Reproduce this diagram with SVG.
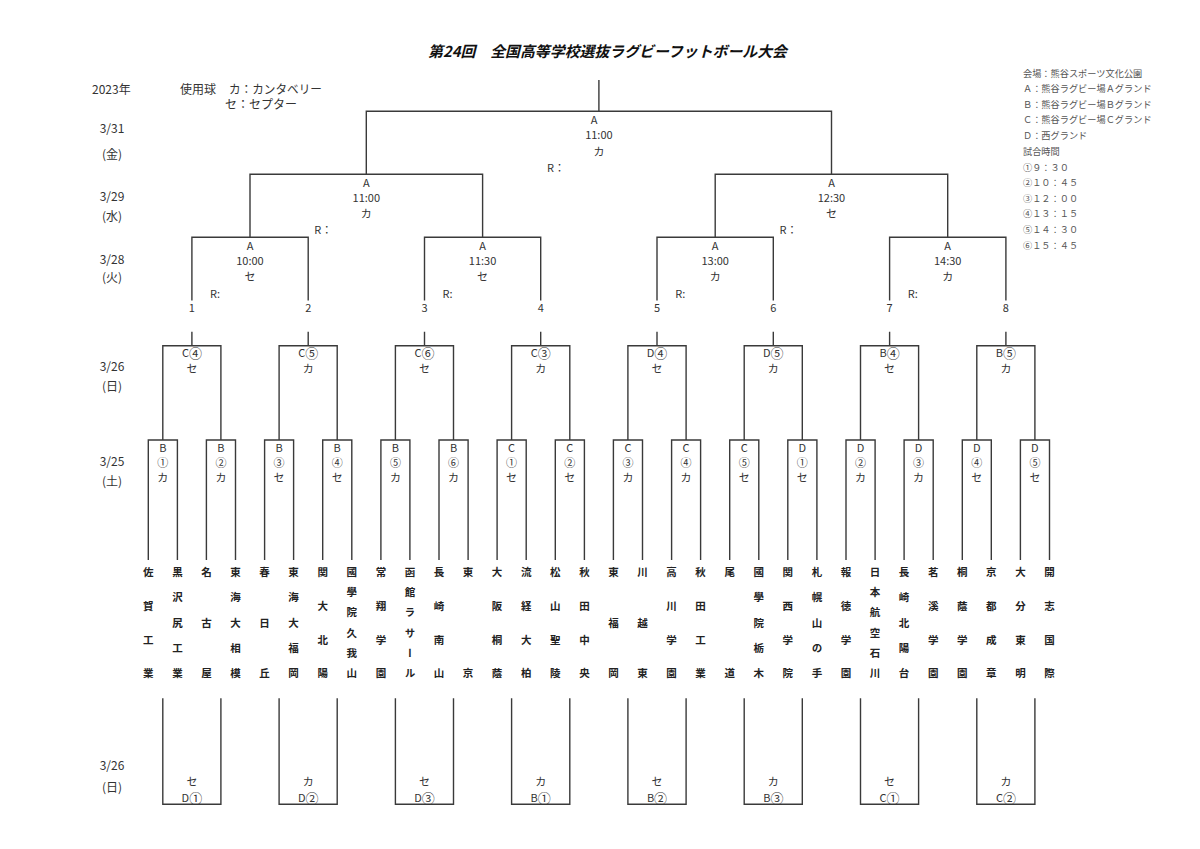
<svg xmlns="http://www.w3.org/2000/svg" width="1200" height="849" viewBox="0 0 1200 849">
<style>
.ln{fill:none;stroke:#3a3a3a;stroke-width:1.4}
.lb{font-family:"Noto Sans CJK JP","Noto Sans",sans-serif;font-size:11px;fill:#333;text-anchor:middle;dominant-baseline:central}
.cn{font-size:13px}
.rl{font-family:"Noto Sans CJK JP","Noto Sans",sans-serif;font-size:11px;fill:#333;dominant-baseline:central}
.dt{font-family:"Noto Sans CJK JP","Noto Sans",sans-serif;font-size:12px;fill:#333;text-anchor:middle;dominant-baseline:central}
.hd{font-family:"Noto Sans CJK JP","Noto Sans",sans-serif;font-size:12px;fill:#333;dominant-baseline:central}
.lg{font-family:"Noto Sans CJK JP","Noto Sans",sans-serif;font-size:9.2px;fill:#555;dominant-baseline:central}
.tm{font-family:"Noto Sans CJK JP","Noto Sans",sans-serif;font-weight:bold;font-size:10.5px;fill:#222;writing-mode:vertical-rl}
.ti{font-family:"Noto Sans CJK JP","Noto Sans",sans-serif;font-weight:bold;font-style:italic;font-size:15px;fill:#111;text-anchor:middle;dominant-baseline:central}
</style>
<rect width="1200" height="849" fill="#fff"/>
<g id="title"><text class="ti" x="607.5" y="50" textLength="359" lengthAdjust="spacingAndGlyphs">第24回　全国高等学校選抜ラグビーフットボール大会</text></g>
<g id="header">
<text class="hd" x="92" y="88">2023年</text>
<text class="hd" x="180" y="88">使用球</text>
<text class="hd" x="229" y="88" textLength="93" lengthAdjust="spacingAndGlyphs">カ：カンタベリー</text>
<text class="hd" x="225" y="103.5" textLength="72" lengthAdjust="spacingAndGlyphs">セ：セプター</text>
</g>
<g id="legend">
<text class="lg" x="1023" y="72.7">会場：熊谷スポーツ文化公園</text>
<text class="lg" x="1023" y="88">Ａ：熊谷ラグビー場Ａグランド</text>
<text class="lg" x="1023" y="103.7">Ｂ：熊谷ラグビー場Ｂグランド</text>
<text class="lg" x="1023" y="119.3">Ｃ：熊谷ラグビー場Ｃグランド</text>
<text class="lg" x="1023" y="135">Ｄ：西グランド</text>
<text class="lg" x="1023" y="150.7">試合時間</text>
<text class="lg" x="1023" y="166.5">①９：３０</text>
<text class="lg" x="1023" y="182.2">②１０：４５</text>
<text class="lg" x="1023" y="197.8">③１２：００</text>
<text class="lg" x="1023" y="213.4">④１３：１５</text>
<text class="lg" x="1023" y="229">⑤１４：３０</text>
<text class="lg" x="1023" y="244.8">⑥１５：４５</text>
</g>
<g id="dates">
<text class="dt" x="112" y="127">3/31</text>
<text class="dt" x="112" y="153.5">(金)</text>
<text class="dt" x="112" y="195">3/29</text>
<text class="dt" x="112" y="215.5">(水)</text>
<text class="dt" x="112" y="258">3/28</text>
<text class="dt" x="112" y="276">(火)</text>
<text class="dt" x="112" y="365">3/26</text>
<text class="dt" x="112" y="385.5">(日)</text>
<text class="dt" x="112" y="460">3/25</text>
<text class="dt" x="112" y="480.5">(土)</text>
<text class="dt" x="112" y="764">3/26</text>
<text class="dt" x="112" y="786">(日)</text>
</g>
<g id="connectors" class="ln">
<path d="M598.9 80V111.3M366.3 174.3V111.3H831.5V174.3"/>
<path d="M250 237.3V174.3H482.6V237.3M715.2 237.3V174.3H947.7V237.3"/>
<path d="M191.9 300.5V237.3H308.2V300.5M424.5 300.5V237.3H540.7V300.5M657 300.5V237.3H773.3V300.5M889.6 300.5V237.3H1005.9V300.5"/>
<path d="M191.9 331.7V345.7M308.2 331.7V345.7M424.5 331.7V345.7M540.7 331.7V345.7M657 331.7V345.7M773.3 331.7V345.7M889.6 331.7V345.7M1005.9 331.7V345.7"/>
<path d="M162.8 440V345.7H220.9V440M279.1 440V345.7H337.2V440M395.4 440V345.7H453.5V440M511.6 440V345.7H569.8V440M627.9 440V345.7H686.1V440M744.2 440V345.7H802.3V440M860.5 440V345.7H918.6V440M976.8 440V345.7H1034.9V440"/>
<path d="M148.3 560V440H177.4V560M206.4 560V440H235.5V560M264.6 560V440H293.6V560M322.7 560V440H351.8V560M380.9 560V440H409.9V560M439 560V440H468.1V560M497.1 560V440H526.2V560M555.3 560V440H584.4V560M613.4 560V440H642.5V560M671.6 560V440H700.6V560M729.7 560V440H758.8V560M787.8 560V440H816.9V560M846 560V440H875.1V560M904.1 560V440H933.2V560M962.3 560V440H991.3V560M1020.4 560V440H1049.5V560"/>
<path d="M162.8 698.3V804.3H220.9V698.3M279.1 698.3V804.3H337.2V698.3M395.4 698.3V804.3H453.5V698.3M511.6 698.3V804.3H569.8V698.3M627.9 698.3V804.3H686.1V698.3M744.2 698.3V804.3H802.3V698.3M860.5 698.3V804.3H918.6V698.3M976.8 698.3V804.3H1034.9V698.3"/>
</g>
<g id="final"><text class="lb" x="594" y="119.3">A</text><text class="lb" x="598.9" y="134.3">11:00</text><text class="lb" x="598.9" y="150.5">カ</text><text class="rl" x="547" y="167">R：</text></g>
<g id="sf1"><text class="lb" x="366.3" y="182">A</text><text class="lb" x="366.3" y="197.3">11:00</text><text class="lb" x="366.3" y="212.7">カ</text><text class="rl" x="314.3" y="229">R：</text></g>
<g id="sf2"><text class="lb" x="831.5" y="182">A</text><text class="lb" x="831.5" y="197.3">12:30</text><text class="lb" x="831.5" y="212.7">セ</text><text class="rl" x="779.5" y="229">R：</text></g>
<g id="qf1"><text class="lb" x="250" y="245.3">A</text><text class="lb" x="250" y="260.3">10:00</text><text class="lb" x="250" y="276">セ</text><text class="rl" x="210" y="292.5">R:</text></g>
<g id="qf2"><text class="lb" x="482.6" y="245.3">A</text><text class="lb" x="482.6" y="260.3">11:30</text><text class="lb" x="482.6" y="276">セ</text><text class="rl" x="442.6" y="292.5">R:</text></g>
<g id="qf3"><text class="lb" x="715.2" y="245.3">A</text><text class="lb" x="715.2" y="260.3">13:00</text><text class="lb" x="715.2" y="276">カ</text><text class="rl" x="675.2" y="292.5">R:</text></g>
<g id="qf4"><text class="lb" x="947.7" y="245.3">A</text><text class="lb" x="947.7" y="260.3">14:30</text><text class="lb" x="947.7" y="276">カ</text><text class="rl" x="907.7" y="292.5">R:</text></g>
<g id="slots">
<text class="lb" x="191.9" y="307.3">1</text><text class="lb" x="308.2" y="307.3">2</text><text class="lb" x="424.5" y="307.3">3</text><text class="lb" x="540.7" y="307.3">4</text><text class="lb" x="657" y="307.3">5</text><text class="lb" x="773.3" y="307.3">6</text><text class="lb" x="889.6" y="307.3">7</text><text class="lb" x="1005.9" y="307.3">8</text>
</g>
<g id="r2-1"><text class="lb" x="191.9" y="352">C<tspan class="cn">④</tspan></text><text class="lb" x="191.9" y="368">セ</text></g>
<g id="r2-2"><text class="lb" x="308.2" y="352">C<tspan class="cn">⑤</tspan></text><text class="lb" x="308.2" y="368">カ</text></g>
<g id="r2-3"><text class="lb" x="424.5" y="352">C<tspan class="cn">⑥</tspan></text><text class="lb" x="424.5" y="368">セ</text></g>
<g id="r2-4"><text class="lb" x="540.7" y="352">C<tspan class="cn">③</tspan></text><text class="lb" x="540.7" y="368">カ</text></g>
<g id="r2-5"><text class="lb" x="657" y="352">D<tspan class="cn">④</tspan></text><text class="lb" x="657" y="368">セ</text></g>
<g id="r2-6"><text class="lb" x="773.3" y="352">D<tspan class="cn">⑤</tspan></text><text class="lb" x="773.3" y="368">カ</text></g>
<g id="r2-7"><text class="lb" x="889.6" y="352">B<tspan class="cn">④</tspan></text><text class="lb" x="889.6" y="368">セ</text></g>
<g id="r2-8"><text class="lb" x="1005.9" y="352">B<tspan class="cn">⑤</tspan></text><text class="lb" x="1005.9" y="368">カ</text></g>
<g id="r1-1"><text class="lb" x="162.8" y="447">B</text><text class="lb" x="162.8" y="462">①</text><text class="lb" x="162.8" y="477">カ</text></g>
<g id="r1-2"><text class="lb" x="220.9" y="447">B</text><text class="lb" x="220.9" y="462">②</text><text class="lb" x="220.9" y="477">カ</text></g>
<g id="r1-3"><text class="lb" x="279.1" y="447">B</text><text class="lb" x="279.1" y="462">③</text><text class="lb" x="279.1" y="477">セ</text></g>
<g id="r1-4"><text class="lb" x="337.2" y="447">B</text><text class="lb" x="337.2" y="462">④</text><text class="lb" x="337.2" y="477">セ</text></g>
<g id="r1-5"><text class="lb" x="395.4" y="447">B</text><text class="lb" x="395.4" y="462">⑤</text><text class="lb" x="395.4" y="477">カ</text></g>
<g id="r1-6"><text class="lb" x="453.5" y="447">B</text><text class="lb" x="453.5" y="462">⑥</text><text class="lb" x="453.5" y="477">カ</text></g>
<g id="r1-7"><text class="lb" x="511.6" y="447">C</text><text class="lb" x="511.6" y="462">①</text><text class="lb" x="511.6" y="477">セ</text></g>
<g id="r1-8"><text class="lb" x="569.8" y="447">C</text><text class="lb" x="569.8" y="462">②</text><text class="lb" x="569.8" y="477">セ</text></g>
<g id="r1-9"><text class="lb" x="627.9" y="447">C</text><text class="lb" x="627.9" y="462">③</text><text class="lb" x="627.9" y="477">カ</text></g>
<g id="r1-10"><text class="lb" x="686.1" y="447">C</text><text class="lb" x="686.1" y="462">④</text><text class="lb" x="686.1" y="477">カ</text></g>
<g id="r1-11"><text class="lb" x="744.2" y="447">C</text><text class="lb" x="744.2" y="462">⑤</text><text class="lb" x="744.2" y="477">セ</text></g>
<g id="r1-12"><text class="lb" x="802.3" y="447">D</text><text class="lb" x="802.3" y="462">①</text><text class="lb" x="802.3" y="477">セ</text></g>
<g id="r1-13"><text class="lb" x="860.5" y="447">D</text><text class="lb" x="860.5" y="462">②</text><text class="lb" x="860.5" y="477">カ</text></g>
<g id="r1-14"><text class="lb" x="918.6" y="447">D</text><text class="lb" x="918.6" y="462">③</text><text class="lb" x="918.6" y="477">カ</text></g>
<g id="r1-15"><text class="lb" x="976.8" y="447">D</text><text class="lb" x="976.8" y="462">④</text><text class="lb" x="976.8" y="477">セ</text></g>
<g id="r1-16"><text class="lb" x="1034.9" y="447">D</text><text class="lb" x="1034.9" y="462">⑤</text><text class="lb" x="1034.9" y="477">セ</text></g>
<g id="t1"><text class="tm" writing-mode="vertical-rl" x="148.3" y="566.5 600.4 634.3 668.1">佐賀工業</text></g>
<g id="t2"><text class="tm" writing-mode="vertical-rl" x="177.4" y="566.5 591.9 617.3 642.7 668.1">黒沢尻工業</text></g>
<g id="t3"><text class="tm" writing-mode="vertical-rl" x="206.4" y="566.5 617.3 668.1">名古屋</text></g>
<g id="t4"><text class="tm" writing-mode="vertical-rl" x="235.5" y="566.5 591.9 617.3 642.7 668.1">東海大相模</text></g>
<g id="t5"><text class="tm" writing-mode="vertical-rl" x="264.6" y="566.5 617.3 668.1">春日丘</text></g>
<g id="t6"><text class="tm" writing-mode="vertical-rl" x="293.6" y="566.5 591.9 617.3 642.7 668.1">東海大福岡</text></g>
<g id="t7"><text class="tm" writing-mode="vertical-rl" x="322.7" y="566.5 600.4 634.3 668.1">関大北陽</text></g>
<g id="t8"><text class="tm" writing-mode="vertical-rl" x="351.8" y="566.5 586.8 607.1 627.5 647.8 668.1">國學院久我山</text></g>
<g id="t9"><text class="tm" writing-mode="vertical-rl" x="380.9" y="566.5 600.4 634.3 668.1">常翔学園</text></g>
<g id="t10"><text class="tm" writing-mode="vertical-rl" x="409.9" y="566.5 586.8 607.1 627.5 647.8 668.1">函館ラサール</text></g>
<g id="t11"><text class="tm" writing-mode="vertical-rl" x="439" y="566.5 600.4 634.3 668.1">長崎南山</text></g>
<g id="t12"><text class="tm" writing-mode="vertical-rl" x="468.1" y="566.5 668.1">東京</text></g>
<g id="t13"><text class="tm" writing-mode="vertical-rl" x="497.1" y="566.5 600.4 634.3 668.1">大阪桐蔭</text></g>
<g id="t14"><text class="tm" writing-mode="vertical-rl" x="526.2" y="566.5 600.4 634.3 668.1">流経大柏</text></g>
<g id="t15"><text class="tm" writing-mode="vertical-rl" x="555.3" y="566.5 600.4 634.3 668.1">松山聖陵</text></g>
<g id="t16"><text class="tm" writing-mode="vertical-rl" x="584.4" y="566.5 600.4 634.3 668.1">秋田中央</text></g>
<g id="t17"><text class="tm" writing-mode="vertical-rl" x="613.4" y="566.5 617.3 668.1">東福岡</text></g>
<g id="t18"><text class="tm" writing-mode="vertical-rl" x="642.5" y="566.5 617.3 668.1">川越東</text></g>
<g id="t19"><text class="tm" writing-mode="vertical-rl" x="671.6" y="566.5 600.4 634.3 668.1">高川学園</text></g>
<g id="t20"><text class="tm" writing-mode="vertical-rl" x="700.6" y="566.5 600.4 634.3 668.1">秋田工業</text></g>
<g id="t21"><text class="tm" writing-mode="vertical-rl" x="729.7" y="566.5 668.1">尾道</text></g>
<g id="t22"><text class="tm" writing-mode="vertical-rl" x="758.8" y="566.5 591.9 617.3 642.7 668.1">國學院栃木</text></g>
<g id="t23"><text class="tm" writing-mode="vertical-rl" x="787.8" y="566.5 600.4 634.3 668.1">関西学院</text></g>
<g id="t24"><text class="tm" writing-mode="vertical-rl" x="816.9" y="566.5 591.9 617.3 642.7 668.1">札幌山の手</text></g>
<g id="t25"><text class="tm" writing-mode="vertical-rl" x="846" y="566.5 600.4 634.3 668.1">報徳学園</text></g>
<g id="t26"><text class="tm" writing-mode="vertical-rl" x="875.1" y="566.5 586.8 607.1 627.5 647.8 668.1">日本航空石川</text></g>
<g id="t27"><text class="tm" writing-mode="vertical-rl" x="904.1" y="566.5 591.9 617.3 642.7 668.1">長崎北陽台</text></g>
<g id="t28"><text class="tm" writing-mode="vertical-rl" x="933.2" y="566.5 600.4 634.3 668.1">茗溪学園</text></g>
<g id="t29"><text class="tm" writing-mode="vertical-rl" x="962.3" y="566.5 600.4 634.3 668.1">桐蔭学園</text></g>
<g id="t30"><text class="tm" writing-mode="vertical-rl" x="991.3" y="566.5 600.4 634.3 668.1">京都成章</text></g>
<g id="t31"><text class="tm" writing-mode="vertical-rl" x="1020.4" y="566.5 600.4 634.3 668.1">大分東明</text></g>
<g id="t32"><text class="tm" writing-mode="vertical-rl" x="1049.5" y="566.5 600.4 634.3 668.1">開志国際</text></g>
<g id="c1"><text class="lb" x="191.9" y="780.5">セ</text><text class="lb" x="191.9" y="796.5">D<tspan class="cn">①</tspan></text></g>
<g id="c2"><text class="lb" x="308.2" y="780.5">カ</text><text class="lb" x="308.2" y="796.5">D<tspan class="cn">②</tspan></text></g>
<g id="c3"><text class="lb" x="424.5" y="780.5">セ</text><text class="lb" x="424.5" y="796.5">D<tspan class="cn">③</tspan></text></g>
<g id="c4"><text class="lb" x="540.7" y="780.5">カ</text><text class="lb" x="540.7" y="796.5">B<tspan class="cn">①</tspan></text></g>
<g id="c5"><text class="lb" x="657" y="780.5">セ</text><text class="lb" x="657" y="796.5">B<tspan class="cn">②</tspan></text></g>
<g id="c6"><text class="lb" x="773.3" y="780.5">カ</text><text class="lb" x="773.3" y="796.5">B<tspan class="cn">③</tspan></text></g>
<g id="c7"><text class="lb" x="889.6" y="780.5">セ</text><text class="lb" x="889.6" y="796.5">C<tspan class="cn">①</tspan></text></g>
<g id="c8"><text class="lb" x="1005.9" y="780.5">カ</text><text class="lb" x="1005.9" y="796.5">C<tspan class="cn">②</tspan></text></g>
</svg>
